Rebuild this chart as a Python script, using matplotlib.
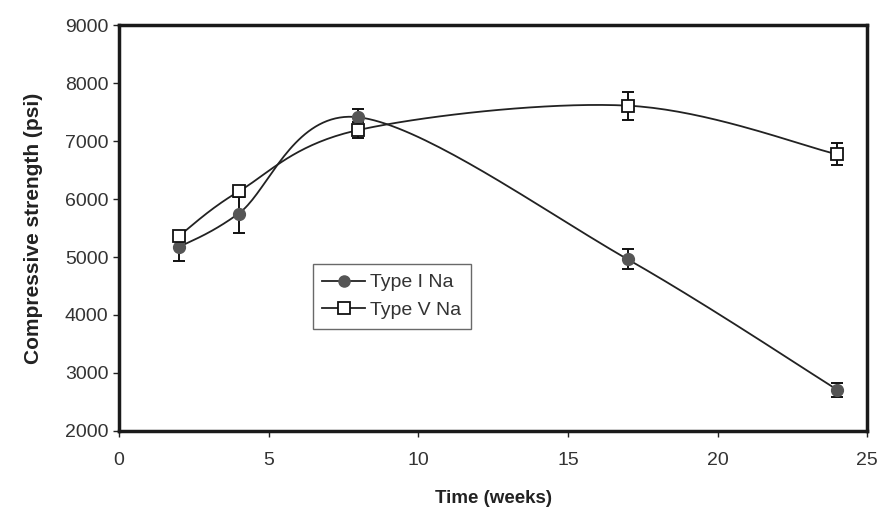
import matplotlib.pyplot as plt
import numpy as np

plt.rcParams['font.family'] = ['Liberation Sans', 'DejaVu Sans']

# data
weeks = [2, 4, 8, 17, 24]
type1 = [5170, 5750, 7410, 4960, 2710]
type1_err = [240, 340, 150, 170, 120]
type5 = [5360, 6130, 7190, 7610, 6770]
type5_err = [90, 90, 130, 240, 190]


def smooth(x, y, xs, ys, n=40):
    # Excel-like smoothed line: Catmull-Rom through the points, in screen-ish units
    px = np.asarray(x, float) * xs
    py = np.asarray(y, float) * ys
    P = np.column_stack([px, py])
    P = np.vstack([P[0], P, P[-1]])
    out = []
    for i in range(1, len(P) - 2):
        p0, p1, p2, p3 = P[i - 1], P[i], P[i + 1], P[i + 2]
        c1 = p1 + (p2 - p0) / 6
        c2 = p2 - (p3 - p1) / 6
        t = np.linspace(0, 1, n)[:, None]
        seg = (1 - t) ** 3 * p1 + 3 * (1 - t) ** 2 * t * c1 + 3 * (1 - t) * t ** 2 * c2 + t ** 3 * p2
        out.append(seg)
    out = np.vstack(out)
    return out[:, 0] / xs, out[:, 1] / ys


fig = plt.figure(figsize=(8.84, 5.11), dpi=100)
ax = fig.add_axes([0.1346, 0.1566, 0.8464, 0.7944])

xs, ys = 29.9, 0.058
sx, sy = smooth(weeks, type1, xs, ys)
ax.plot(sx, sy, color='#222222', lw=1.3, zorder=2)
sx, sy = smooth(weeks, type5, xs, ys)
ax.plot(sx, sy, color='#222222', lw=1.3, zorder=2)

ax.errorbar(weeks, type1, yerr=type1_err, fmt='none', ecolor='#111111',
            elinewidth=1.4, capsize=4.5, capthick=1.4, zorder=3)
ax.errorbar(weeks, type5, yerr=type5_err, fmt='none', ecolor='#111111',
            elinewidth=1.4, capsize=4.5, capthick=1.4, zorder=3)

ax.plot(weeks, type1, 'o', color='#555555', mec='#555555', ms=8.5, zorder=4)
ax.plot(weeks, type5, 's', color='white', mec='#111111', mew=1.3, ms=8.5, zorder=5)

# legend handles
h1, = ax.plot([], [], '-o', color='#222222', mfc='#555555', mec='#555555', ms=8, lw=1.3)
h2, = ax.plot([], [], '-s', color='#222222', mfc='white', mec='#111111', mew=1.3, ms=8, lw=1.3)
leg = ax.legend([h1, h2], ['Type I Na', 'Type V Na'], loc='upper left',
                bbox_to_anchor=(0.259, 0.411), borderaxespad=0, fontsize=14,
                frameon=True, fancybox=False, edgecolor='#444444',
                handlelength=2.2, handletextpad=0.25, borderpad=0.5,
                labelspacing=0.5)
leg.get_frame().set_linewidth(1.0)
for t in leg.get_texts():
    t.set_color('#333333')

ax.set_xlim(0, 25)
ax.set_ylim(2000, 9000)
ax.set_xticks([0, 5, 10, 15, 20, 25])
ax.set_yticks(range(2000, 9001, 1000))
ax.tick_params(direction='out', length=4, width=1, labelsize=14,
               colors='#222222', labelcolor='#333333')
ax.tick_params(axis='x', pad=11)
for s in ax.spines.values():
    s.set_linewidth(2.5)
    s.set_color('#1a1a1a')

ax.set_xlabel('Time (weeks)', fontsize=13.5, fontweight='bold', labelpad=15, color='#222222')
ax.set_ylabel('Compressive strength (psi)', fontsize=15, fontweight='bold', labelpad=16, color='#222222')

fig.savefig('out.png', dpi=100)
